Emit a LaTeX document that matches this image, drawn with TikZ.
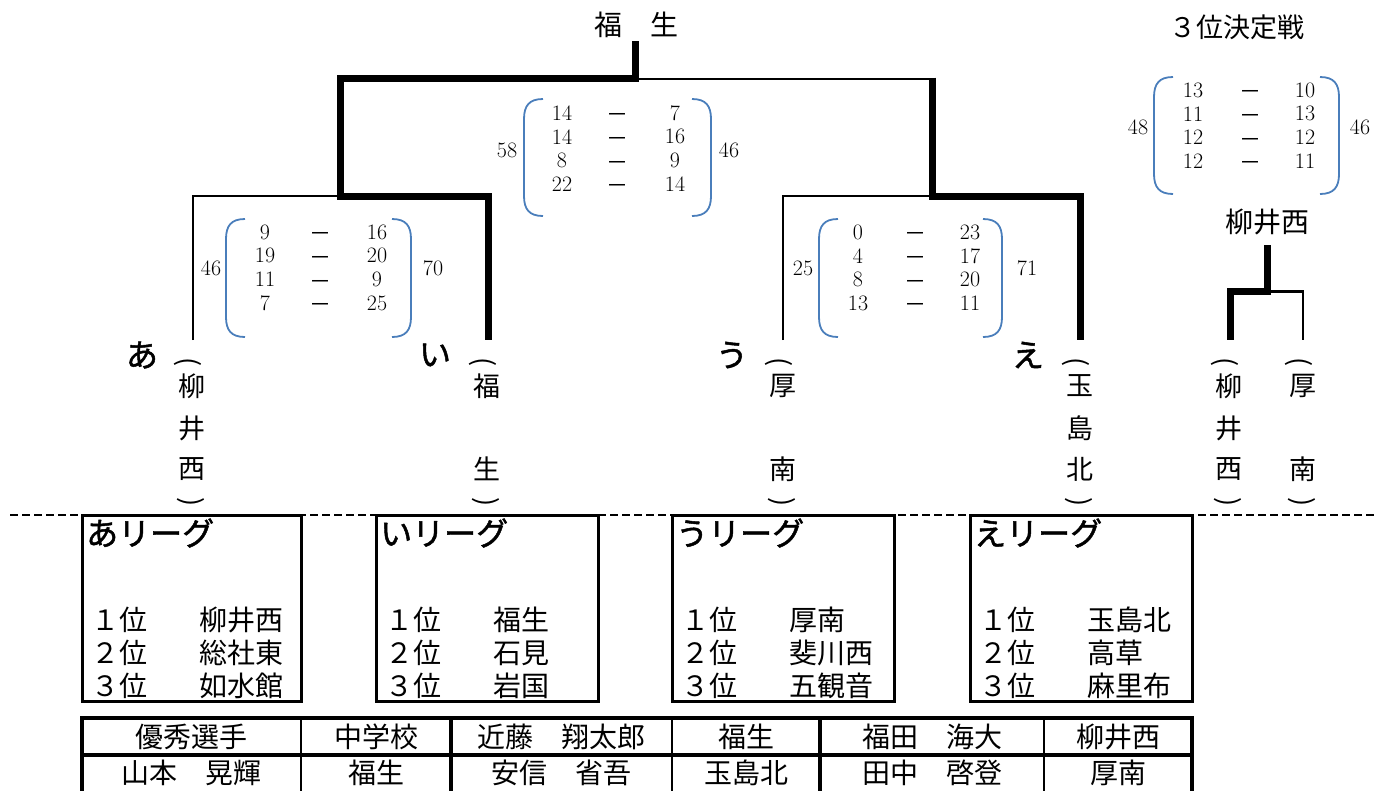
\documentclass[tikz,border=0pt]{standalone}
\usepackage{fontspec}
\newfontfamily\jp{Noto Sans CJK JP}
\newfontfamily\jpb[FakeBold=1.5]{Noto Sans CJK JP}
\definecolor{parenblue}{RGB}{74,126,187}
\tikzset{
  thickline/.style={line width=7pt, line join=miter},
  thinline/.style={line width=2.5pt, line join=miter},
  paren/.style={draw=parenblue, line width=1.8pt},
  num/.style={font=\fontsize{22}{22}\selectfont, inner sep=0pt},
  dashn/.style={font={\jp\fontsize{22}{22}\selectfont}, inner sep=0pt},
  vt/.style={font={\jp\fontsize{27}{27}\selectfont}, inner sep=0pt},
  vp/.style={font={\jp\fontsize{27}{27}\selectfont}, inner sep=0pt, rotate=-90},
  kana/.style={font={\jpb\fontsize{32}{32}\selectfont}, inner sep=0pt},
  title/.style={font={\jp\fontsize{28}{28}\selectfont}, inner sep=0pt},
  hdr/.style={font={\jpb\fontsize{32}{32}\selectfont}, inner sep=0pt, anchor=west},
  boxt/.style={font={\jp\fontsize{28}{28}\selectfont}, inner sep=0pt, anchor=west},
  cell/.style={font={\jp\fontsize{28}{28}\selectfont}, inner sep=0pt},
  lbox/.style={draw, line width=3pt, fill=white},
  dashline/.style={line width=2.4pt, dash pattern=on 8pt off 4pt},
}
\newcommand{\lpar}[4]{\draw[paren] (#1,#3) .. controls (#2+5,#3) and (#2,#3+7) .. (#2,#3+20) -- (#2,#4-20) .. controls (#2,#4-7) and (#2+5,#4) .. (#1,#4);}
\newcommand{\rpar}[4]{\draw[paren] (#1,#3) .. controls (#2-5,#3) and (#2,#3+7) .. (#2,#3+20) -- (#2,#4-20) .. controls (#2,#4-7) and (#2-5,#4) .. (#1,#4);}
\newcommand{\scoreblock}[6]{\foreach \a/\b [count=\i] in {#6} {
  \node[num] (#1l\i) at (#2, #5+\i*23.8-23.8) {\a};
  \node[dashn] (#1d\i) at (#3, #5+\i*23.8-23.8+5) {－};
  \node[num] (#1r\i) at (#4, #5+\i*23.8-23.8) {\b};}}
\newcommand{\league}[7]{%
  \draw[lbox] (#2,515) rectangle (#3,701);
  \node[hdr] (#1h) at (#2+4,533) {#4};
  \node[boxt] (#1p1) at (#2+9,620) {１位};
  \node[boxt] (#1p2) at (#2+9,653) {２位};
  \node[boxt] (#1p3) at (#2+9,686) {３位};
  \node[boxt] (#1t1) at (#2+117,620) {#5};
  \node[boxt] (#1t2) at (#2+117,653) {#6};
  \node[boxt] (#1t3) at (#2+117,686) {#7};}
\begin{document}
\begin{tikzpicture}[x=1pt,y=-1pt]
\useasboundingbox (0,0) rectangle (1375,790);
\clip (0,0) rectangle (1375,790);
% column foot coordinates
\coordinate (cA) at (193,340);
\coordinate (cI) at (488,340);
\coordinate (cU) at (783,340);
\coordinate (cE) at (1080,340);
\coordinate (cY) at (1230,340);
\coordinate (cK) at (1303,340);
% champion
\node[title] (champ) at (636,25) {福　生};
% bracket lines
\draw[thinline] (637,79) -- (932,79);
\draw[thinline] (cA) -- (193,196) -- (340,196);
\draw[thinline] (cU) -- (783,196) -- (932,196);
\draw[thickline] (635,41) -- (635,78) -- (340,78) -- (340,196) -- (488,196) -- (cI);
\draw[thickline] (932,77.5) -- (932,196) -- (1080,196) -- (cE);
% third place
\node[title, font={\jp\fontsize{27}{27}\selectfont}] (third) at (1237,27) {３位決定戦};
\node[title] (thirdw) at (1267,222) {柳井西};
\draw[thinline] (1267,291.5) -- (1303,291.5) -- (cK);
\draw[thickline] (1267,245) -- (1267,291) -- (1230,291) -- (cY);
% scores: final
\lpar{543}{524}{99}{216}\rpar{692}{711}{99}{216}
\node[num] (ft1) at (507,150) {58};
\node[num] (ft2) at (729,150) {46};
\scoreblock{f}{562}{617}{675}{113}{14/7,14/16,8/9,22/14}
% semifinal left
\lpar{245}{226}{219}{337}\rpar{392}{411}{219}{337}
\node[num] (lt1) at (211,268) {46};
\node[num] (lt2) at (433,268) {70};
\scoreblock{l}{265}{320}{377}{232}{9/16,19/20,11/9,7/25}
% semifinal right
\lpar{838}{819}{219}{337}\rpar{983}{1002}{219}{337}
\node[num] (rt1) at (803,268) {25};
\node[num] (rt2) at (1027,268) {71};
\scoreblock{r}{858}{915}{970}{232}{0/23,4/17,8/20,13/11}
% third place scores
\lpar{1173}{1154}{77}{194}\rpar{1320}{1339}{77}{194}
\node[num] (tt1) at (1138,127) {48};
\node[num] (tt2) at (1360,127) {46};
\scoreblock{t}{1193}{1250}{1305}{90}{13/10,11/13,12/12,12/11}
% league letters
\node[kana] (ka) at (142,355) {あ};
\node[kana] (ki) at (435,355) {い};
\node[kana] (ku) at (732,355) {う};
\node[kana] (ke) at (1028,355) {え};
% vertical team names
\node[vp] (ao) at (188,362) {(};
\node[vt] (a1) at (192,386) {柳};
\node[vt] (a2) at (192,428) {井};
\node[vt] (a3) at (192,469) {西};
\node[vp] (ae) at (191,502) {)};
\node[vp] (io) at (483,362) {(};
\node[vt] (i1) at (487,386) {福};
\node[vt] (i3) at (487,469) {生};
\node[vp] (ie) at (486,502) {)};
\node[vp] (uo) at (779,362) {(};
\node[vt] (u1) at (783,386) {厚};
\node[vt] (u3) at (783,469) {南};
\node[vp] (ue) at (782,502) {)};
\node[vp] (eo) at (1076,362) {(};
\node[vt] (e1) at (1080,386) {玉};
\node[vt] (e2) at (1080,428) {島};
\node[vt] (e3) at (1080,469) {北};
\node[vp] (ee) at (1079,502) {)};
\node[vp] (yo) at (1225,362) {(};
\node[vt] (y1) at (1229,386) {柳};
\node[vt] (y2) at (1229,428) {井};
\node[vt] (y3) at (1229,469) {西};
\node[vp] (ye) at (1228,502) {)};
\node[vp] (ko) at (1299,362) {(};
\node[vt] (k1) at (1303,386) {厚};
\node[vt] (k3) at (1303,469) {南};
\node[vp] (ke2) at (1302,502) {)};
% dashed separator
\draw[dashline] (10,515) -- (1375,515);
% league boxes
\league{A}{82}{301}{あリーグ}{柳井西}{総社東}{如水館}
\league{I}{376}{598}{いリーグ}{福生}{石見}{岩国}
\league{U}{672}{894}{うリーグ}{厚南}{斐川西}{五観音}
\league{E}{970}{1192}{えリーグ}{玉島北}{高草}{麻里布}
% table
\draw[line width=1.5pt] (301,718) -- (301,810) (672,718) -- (672,810) (1044,718) -- (1044,810);
\draw[line width=3.5pt] (451,718) -- (451,810) (820,718) -- (820,810) (82,755) -- (1192,755);
\draw[line width=4pt] (82,718) rectangle (1192,810);
\node[cell] (t11) at (191.5,737) {優秀選手};
\node[cell] (t12) at (376,737) {中学校};
\node[cell] (t13) at (561.5,737) {近藤　翔太郎};
\node[cell] (t14) at (746,737) {福生};
\node[cell] (t15) at (932,737) {福田　海大};
\node[cell] (t16) at (1118,737) {柳井西};
\node[cell] (t21) at (191.5,773) {山本　晃輝};
\node[cell] (t22) at (376,773) {福生};
\node[cell] (t23) at (561.5,773) {安信　省吾};
\node[cell] (t24) at (746,773) {玉島北};
\node[cell] (t25) at (932,773) {田中　啓登};
\node[cell] (t26) at (1118,773) {厚南};
\end{tikzpicture}
\end{document}
